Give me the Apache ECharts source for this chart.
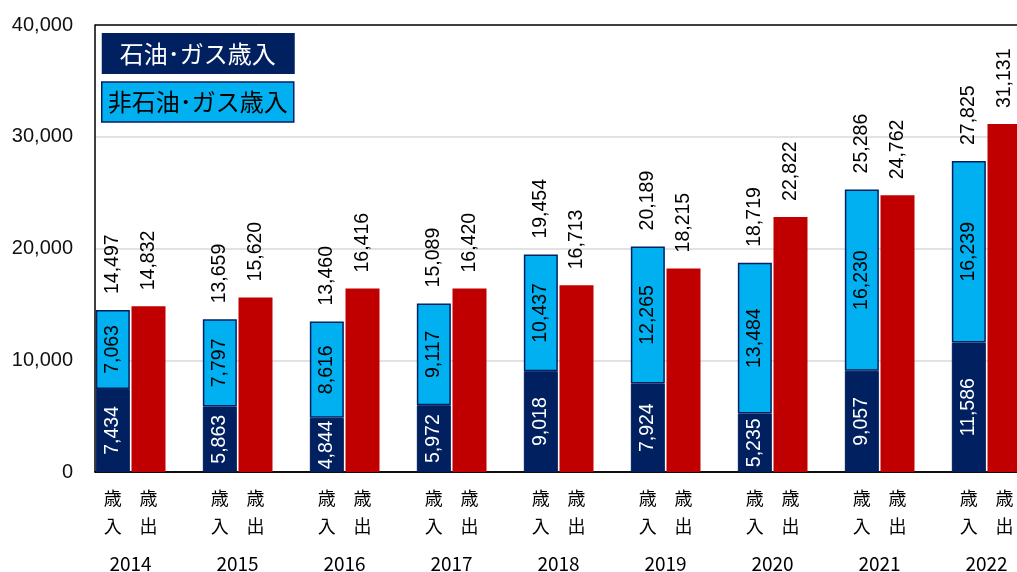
<!DOCTYPE html>
<html>
<head>
    <meta charset="utf-8">
    <title>歳入・歳出</title>
    <script src="https://cdn.jsdelivr.net/npm/echarts@6/dist/echarts.min.js"></script>
</head>
<body style="margin:0;">
    <div id="main" style="width:1017px;height:572px;"></div>
    <script type="text/javascript">
        var years = ['2014', '2015', '2016', '2017', '2018', '2019', '2020', '2021', '2022'];
        var oilRevenue = [7434, 5863, 4844, 5972, 9018, 7924, 5235, 9057, 11586];
        var nonOilRevenue = [7063, 7797, 8616, 9117, 10437, 12265, 13484, 16230, 16239];
        var totalRevenue = [14497, 13659, 13460, 15089, 19454, 20189, 18719, 25286, 27825];
        var expenditure = [14832, 15620, 16416, 16420, 16713, 18215, 22822, 24762, 31131];
        var slotLabels = ['歳\n入', '歳\n出', ''];

        var numFont = 'Arial, "Liberation Sans", sans-serif';
        var jpFont = '"Noto Sans CJK JP", sans-serif';

        // 1年 = 3スロット（歳入・歳出・空き）
        var slots = [], oilData = [], nonOilData = [], totalData = [], expData = [];
        for (var i = 0; i < years.length; i++) {
            slots.push(years[i] + 'a', years[i] + 'b', years[i] + 'c');
            oilData.push(oilRevenue[i], '-', '-');
            nonOilData.push(nonOilRevenue[i], '-', '-');
            totalData.push({value: 0, total: totalRevenue[i]}, '-', '-');
            expData.push('-', expenditure[i], '-');
        }

        function fmt(v) {
            return Number(v).toLocaleString('en-US');
        }

        var topLabel = {
            show: true,
            position: 'top',
            rotate: 90,
            align: 'left',
            verticalAlign: 'middle',
            distance: 16,
            color: '#000',
            fontSize: 19.5,
            fontFamily: numFont
        };

        var myChart = echarts.init(document.getElementById('main'));
        var option = {
            animation: false,
            grid: [
                {left: 95, top: 25, width: 963, height: 447, outerBoundsMode: 'none', containLabel: false},
                {left: 77, top: 25, width: 963, height: 447, outerBoundsMode: 'none', containLabel: false}
            ],
            xAxis: [
                {
                    type: 'category',
                    gridIndex: 0,
                    data: slots,
                    axisLine: {show: true, lineStyle: {color: '#000', width: 1.5}},
                    axisTick: {show: false},
                    axisLabel: {
                        interval: 0,
                        margin: 12,
                        fontSize: 18,
                        lineHeight: 28,
                        color: '#000',
                        fontFamily: jpFont,
                        formatter: function (value, index) {
                            return slotLabels[index % 3];
                        }
                    }
                },
                {
                    type: 'category',
                    gridIndex: 1,
                    data: years,
                    axisLine: {show: false},
                    axisTick: {show: false},
                    axisLabel: {
                        interval: 0,
                        margin: 82,
                        fontSize: 19,
                        color: '#000',
                        fontFamily: jpFont
                    }
                }
            ],
            yAxis: [
                {
                    type: 'value',
                    gridIndex: 0,
                    min: 0,
                    max: 40000,
                    interval: 10000,
                    axisLine: {show: true, lineStyle: {color: '#000', width: 1.5}},
                    axisTick: {show: false},
                    axisLabel: {
                        margin: 22,
                        fontSize: 20,
                        color: '#111',
                        fontFamily: numFont,
                        formatter: function (v) { return fmt(v); }
                    },
                    splitLine: {
                        show: true,
                        lineStyle: {color: ['#000', '#d9d9d9', '#d9d9d9', '#d9d9d9', '#000'], width: 1.5}
                    }
                },
                {type: 'value', gridIndex: 1, show: false, min: 0, max: 40000}
            ],
            series: [
                {
                    name: '石油･ガス歳入',
                    type: 'bar',
                    stack: 'a',
                    barWidth: 34,
                    data: oilData,
                    itemStyle: {color: '#002060', borderColor: '#002060', borderWidth: 1},
                    label: {
                        show: true,
                        position: 'inside',
                        rotate: 90,
                        color: '#fff',
                        fontSize: 19.5,
                        fontFamily: numFont,
                        formatter: function (p) { return fmt(p.value); }
                    }
                },
                {
                    name: '非石油･ガス歳入',
                    type: 'bar',
                    stack: 'a',
                    barWidth: 34,
                    data: nonOilData,
                    itemStyle: {color: '#00B0F0', borderColor: '#002060', borderWidth: 1.5},
                    label: {
                        show: true,
                        position: 'inside',
                        rotate: 90,
                        color: '#000',
                        fontSize: 19.5,
                        fontFamily: numFont,
                        formatter: function (p) { return fmt(p.value); }
                    }
                },
                {
                    name: '歳入合計',
                    type: 'bar',
                    stack: 'a',
                    barWidth: 34,
                    data: totalData,
                    itemStyle: {color: 'rgba(0,0,0,0)', borderWidth: 0},
                    label: Object.assign({}, topLabel, {
                        formatter: function (p) { return fmt(p.data.total); }
                    })
                },
                {
                    name: '歳出',
                    type: 'bar',
                    stack: 'a',
                    barWidth: 34,
                    data: expData,
                    itemStyle: {color: '#C00000'},
                    label: Object.assign({}, topLabel, {
                        formatter: function (p) { return fmt(p.value); }
                    })
                }
            ],
            graphic: [
                {
                    type: 'group',
                    left: 101,
                    top: 33,
                    children: [
                        {type: 'rect', shape: {x: 0, y: 0, width: 193, height: 41}, style: {fill: '#002060'}},
                        {type: 'text', x: 96, y: 21, style: {text: '石油･ガス歳入', fill: '#fff', fontSize: 24, fontFamily: jpFont, align: 'center', verticalAlign: 'middle'}},
                        {type: 'rect', shape: {x: 0, y: 49, width: 192, height: 40}, style: {fill: '#00B0F0', stroke: '#002060', lineWidth: 1.5}},
                        {type: 'text', x: 96, y: 69, style: {text: '非石油･ガス歳入', fill: '#000', fontSize: 24, fontFamily: jpFont, align: 'center', verticalAlign: 'middle'}}
                    ]
                }
            ]
        };
        myChart.setOption(option);
    </script>
</body>
</html>
